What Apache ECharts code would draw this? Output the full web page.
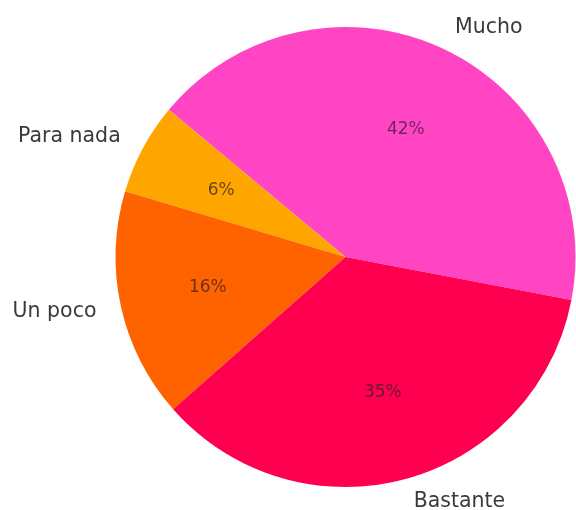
<!DOCTYPE html>
<html>
<head>
<meta charset="utf-8">
<script src="https://cdn.jsdelivr.net/npm/echarts@6/dist/echarts.min.js"></script>
<style>
  html, body { margin: 0; padding: 0; background: #ffffff; }
  #chart { width: 576px; height: 510px; }
</style>
</head>
<body>
<div id="chart"></div>
<script>
// Survey answers (counts), drawn counter-clockwise
const categories = ['Mucho', 'Para nada', 'Un poco', 'Bastante'];
const counts = [13, 2, 5, 11];
const sliceColors = ['#ff45c4', '#ffa500', '#ff6300', '#ff0050'];

const pieData = categories.map((name, i) => ({
  name: name,
  value: counts[i],
  itemStyle: { color: sliceColors[i] }
}));

const centerPos = [345.5, 257];
const pieRadius = 230;
const startAt = 349.2;

const chart = echarts.init(document.getElementById('chart'));
chart.setOption({
  backgroundColor: '#ffffff',
  animation: false,
  series: [
    {
      // slices with category names outside
      type: 'pie',
      center: centerPos,
      radius: pieRadius,
      startAngle: startAt,
      clockwise: false,
      avoidLabelOverlap: false,
      silent: true,
      data: pieData,
      itemStyle: { borderWidth: 0 },
      label: {
        show: true,
        position: 'outside',
        formatter: '{b}',
        fontFamily: 'DejaVu Sans',
        fontSize: 20.5,
        color: '#3a3a3a',
        distanceToLabelLine: 1
      },
      labelLine: { show: false, length: 24, length2: 0 }
    },
    {
      // transparent ring whose mid radius carries the percentage labels
      type: 'pie',
      center: centerPos,
      radius: [pieRadius * 0.6 - 42, pieRadius * 0.6 + 42],
      startAngle: startAt,
      clockwise: false,
      avoidLabelOverlap: false,
      silent: true,
      data: categories.map((name, i) => ({ name: name, value: counts[i] })),
      itemStyle: { color: 'rgba(0,0,0,0)', borderWidth: 0 },
      label: {
        show: true,
        position: 'inside',
        formatter: p => Math.round(p.percent) + '%',
        fontFamily: 'DejaVu Sans',
        fontSize: 17,
        color: 'rgba(45,30,45,0.72)'
      },
      labelLine: { show: false }
    }
  ]
});
</script>
</body>
</html>
